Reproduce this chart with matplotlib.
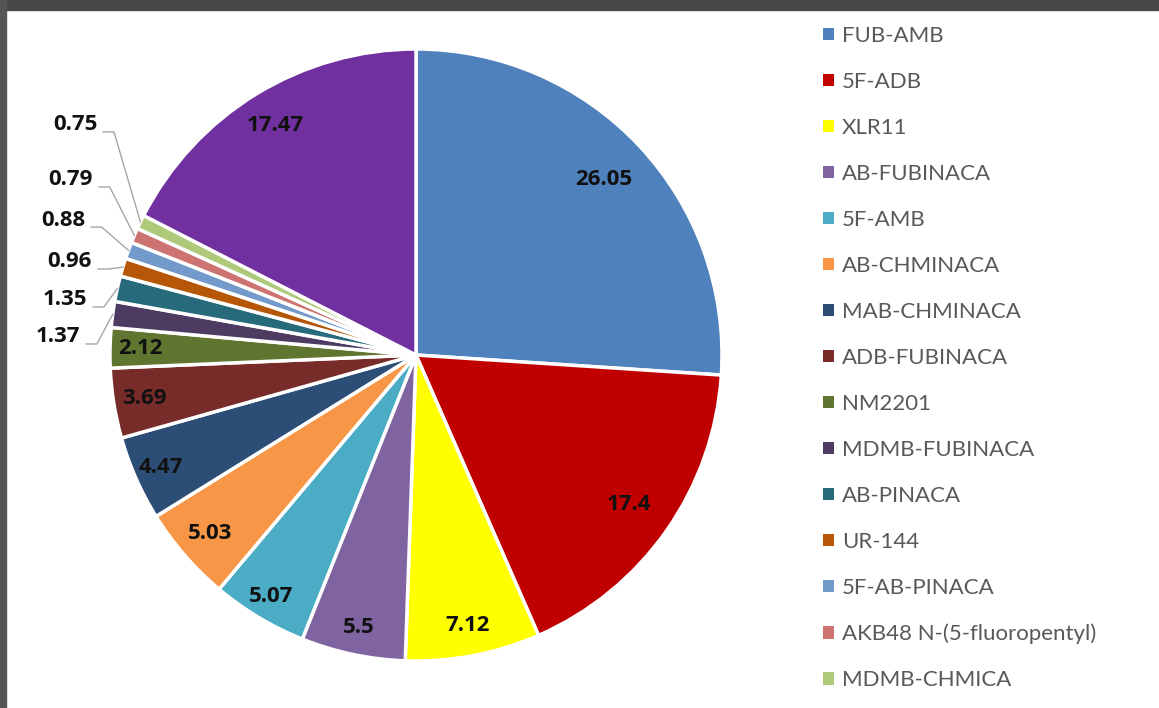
import numpy as np
import matplotlib
matplotlib.use("Agg")
import matplotlib.pyplot as plt
from matplotlib.patches import Patch, Rectangle

plt.rcParams['font.family'] = ['Lato', 'DejaVu Sans']

# Anteile der synthetischen Cannabinoide (%)
names = ["FUB-AMB", "5F-ADB", "XLR11", "AB-FUBINACA", "5F-AMB", "AB-CHMINACA",
         "MAB-CHMINACA", "ADB-FUBINACA", "NM2201", "MDMB-FUBINACA", "AB-PINACA",
         "UR-144", "5F-AB-PINACA", "AKB48 N-(5-fluoropentyl)", "MDMB-CHMICA", "Others"]
values = [26.05, 17.4, 7.12, 5.5, 5.07, 5.03, 4.47, 3.69, 2.12, 1.37, 1.35,
          0.96, 0.88, 0.79, 0.75, 17.47]
colors = ["#4F81BD", "#C00000", "#FFFF00", "#8064A2", "#4BACC6", "#F79646",
          "#2C4D75", "#772C2A", "#5F7530", "#4D3B62", "#276A7C", "#B65708",
          "#729ACA", "#CD7371", "#AFC97A", "#7030A0"]

W, H = 1159, 708
fig = plt.figure(figsize=(W / 100, H / 100), dpi=100, facecolor="white")

# dunkler Rahmen oben und links
fig.patches.append(Rectangle((0, 1 - 10 / H), 1, 10 / H, transform=fig.transFigure,
                             color="#474747", zorder=0))
fig.patches.append(Rectangle((0, 0), 6 / W, 1, transform=fig.transFigure,
                             color="#555555", zorder=0))

cx, cy, r = 416, 355, 306
ax = fig.add_axes([(cx - r) / W, (H - cy - r) / H, 2 * r / W, 2 * r / H])
wedges, _ = ax.pie(values, colors=colors, startangle=90, counterclock=False,
                   radius=1, wedgeprops=dict(edgecolor="white", linewidth=2.5))
ax.set_xlim(-1, 1)
ax.set_ylim(-1, 1)
ax.set_aspect("equal")
ax.axis("off")

label_font = dict(family=['Open Sans', 'DejaVu Sans'], fontsize=16,
                  fontweight="bold", color="#111111")

# Beschriftungen: grosse Stuecke innen, kleine aussen mit Fuehrungslinie
inner_r = {0: 0.84, 1: 0.85, 2: 0.9, 3: 0.91, 4: 0.92, 5: 0.89, 6: 0.91,
           7: 0.9, 8: 0.9, 15: 0.88}
outer_pos = {9: (-1.098, 0.059), 10: (-1.075, 0.180), 11: (-1.059, 0.304),
             12: (-1.082, 0.441), 13: (-1.056, 0.572), 14: (-1.042, 0.752)}
for i, (w, v) in enumerate(zip(wedges, values)):
    ang = np.deg2rad((w.theta1 + w.theta2) / 2)
    ca, sa = np.cos(ang), np.sin(ang)
    txt = f"{v:g}"
    if i in outer_pos:
        tx, ty = outer_pos[i]
        ax.text(tx, ty, txt, ha="right", va="center", **label_font)
        ly = ty - 0.023
        ax.plot([tx + 0.02, tx + 0.055, ca], [ly, ly, sa],
                color="#A6A6A6", lw=1, clip_on=False)
    else:
        rr = inner_r[i]
        ax.text(rr * ca, rr * sa, txt, ha="center", va="center", **label_font)

handles = [Patch(facecolor=c, edgecolor="none") for c in colors[:15]]
fig.legend(handles, names[:15], loc="upper left", bbox_to_anchor=(814 / W, 1 - 17 / H),
           frameon=False, fontsize=16, labelcolor="#595959", handlelength=0.5,
           handleheight=0.5, handletextpad=0.35, labelspacing=1.17, borderaxespad=0)

fig.savefig("out.png", dpi=100, facecolor="white")
